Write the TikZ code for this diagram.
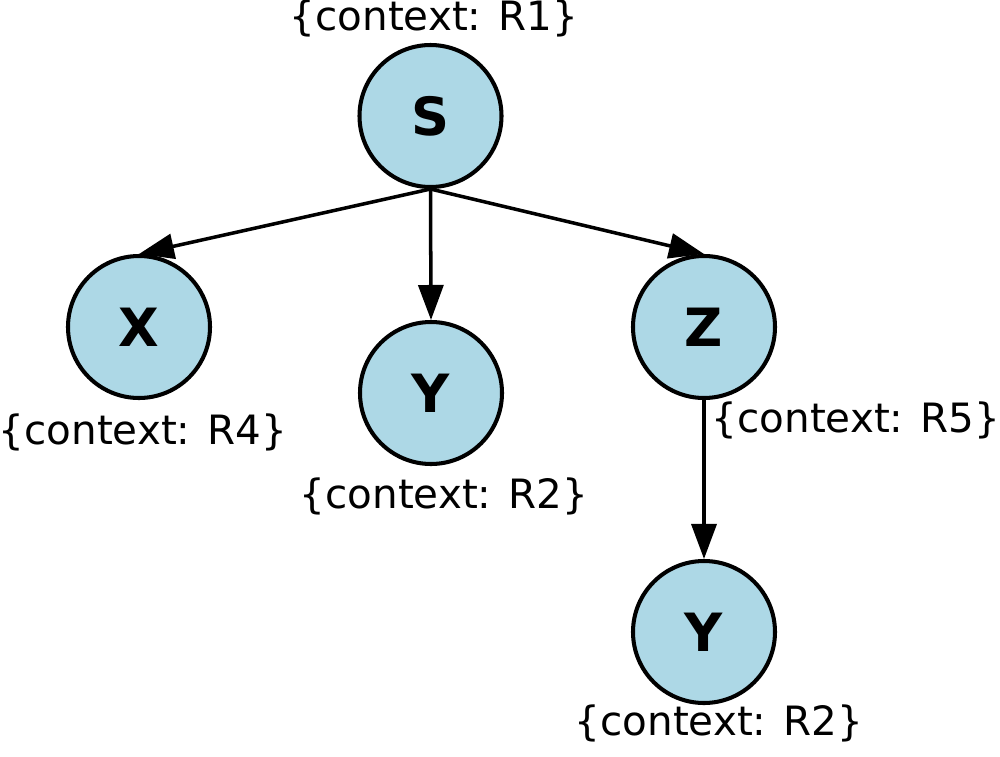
\documentclass[tikz,border=0pt]{standalone}
\usepackage{fontspec}
\setmainfont{DejaVu Sans}
\usetikzlibrary{arrows.meta}
\definecolor{nodeblue}{RGB}{173,216,230}

\begin{document}
\begin{tikzpicture}[
  vertex/.style={shape=circle, draw, line width=2.3pt, fill=nodeblue, minimum size=2.84cm, inner sep=0pt, font=\fontsize{30}{36}\selectfont\bfseries},
  ctx/.style={font=\fontsize{23}{28}\selectfont, inner sep=0pt},
  link/.style={-{Triangle[length=0.7cm,width=0.5cm]}, line width=2pt}]

\useasboundingbox (0,0) rectangle (20,-15.12);

\node[name=s, vertex] at (8.61,-2.32) {S};
\node[name=x, vertex] at (2.78,-6.54) {X};
\node[name=y, vertex] at (8.62,-7.86) {Y};
\node[name=z, vertex] at (14.08,-6.54) {Z};
\node[name=yz, vertex] at (14.08,-12.64) {Y};

\node[name=cs, ctx] at (8.68,-0.36) {\{context: R1\}};
\node[name=cx, ctx] at (2.86,-8.64) {\{context: R4\}};
\node[name=cy, ctx] at (8.88,-9.92) {\{context: R2\}};
\node[name=cz, ctx] at (17.12,-8.40) {\{context: R5\}};
\node[name=cyz, ctx] at (14.38,-14.46) {\{context: R2\}};

\draw[link] (s.south) -- (x.north);
\draw[link] (s.south) -- (y.north);
\draw[link] (s.south) -- (z.north);
\draw[link] (z.south) -- (yz.north);

\end{tikzpicture}
\end{document}
